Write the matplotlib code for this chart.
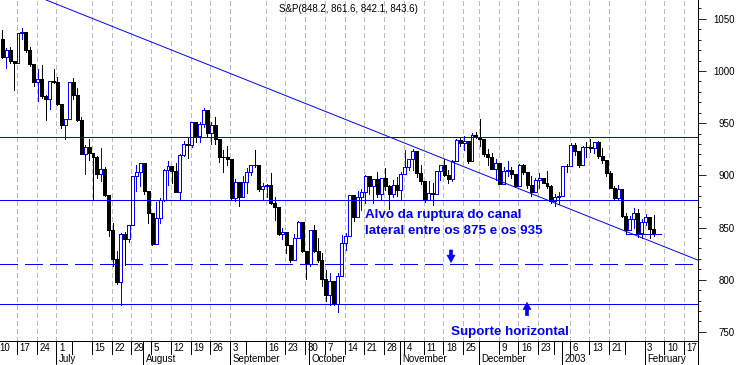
import numpy as np
import pandas as pd
import matplotlib
matplotlib.use("Agg")
import matplotlib.pyplot as plt
import matplotlib.transforms as mtransforms

# ---------------- data (S&P 500 daily, open = previous close) ----------------
holidays = ['2002-07-04', '2002-09-02', '2002-11-28', '2002-12-25', '2003-01-01', '2003-01-20']
first_open = 1030.74
closes = [
    # June 11 - 28
    1013.60, 1020.26, 1009.56, 1007.27, 1036.17, 1037.14, 1019.99, 1006.29, 989.14, 992.72,
    976.14, 973.53, 990.64, 989.82,
    # July
    968.65, 948.09, 953.99, 989.03, 976.98, 952.83, 920.47, 927.37, 921.39, 917.93,
    900.94, 906.04, 881.56, 847.75, 819.85, 797.70, 843.43, 838.68, 852.84, 898.96,
    902.78, 911.62,
    # August
    884.66, 864.24, 834.60, 859.57, 876.77, 905.46, 908.64, 903.80, 884.21, 919.62,
    930.25, 928.77, 950.70, 937.43, 949.36, 962.70, 940.86, 947.95, 934.82, 917.87,
    917.80, 916.07,
    # September
    878.02, 893.40, 879.15, 893.92, 902.96, 909.58, 909.45, 886.91, 889.81, 891.10,
    873.52, 869.46, 843.32, 845.39, 833.70, 819.29, 839.66, 854.95, 827.37, 815.28,
    # October
    847.91, 827.91, 818.95, 800.58, 785.28, 798.55, 776.76, 803.92, 835.32, 841.44,
    881.27, 860.02, 879.20, 884.39, 899.72, 890.16, 896.14, 882.50, 897.65, 890.23,
    882.15, 890.71, 885.76,
    # November
    900.96, 908.35, 915.39, 923.76, 902.65, 894.74, 876.19, 882.95, 882.53, 904.27,
    909.83, 900.36, 896.74, 914.15, 933.76, 930.55, 932.87, 913.31, 938.87, 936.31,
    # December
    934.53, 920.75, 917.58, 906.55, 912.23, 892.00, 904.45, 904.96, 901.58, 889.48,
    910.40, 902.99, 891.12, 884.25, 895.76, 897.38, 892.47, 889.66, 875.40, 879.39,
    879.82,
    # January 2003
    909.03, 908.59, 929.01, 922.93, 909.93, 927.57, 927.57, 926.26, 931.66, 918.22,
    914.60, 901.78, 887.62, 878.36, 887.34, 861.40, 847.48, 858.54, 864.36, 844.61,
    855.70,
    # February
    860.32, 848.20, 843.59,
]
highs = [
    1039.04, 1021.85, 1023.47, 1009.56, 1036.17, 1040.83, 1037.61, 1023.33, 1006.29, 1002.11,
    1005.88, 977.43, 990.67, 1001.79,
    994.46, 968.65, 954.30, 989.07, 993.56, 983.63, 956.34, 929.16, 934.96, 921.39,
    918.65, 926.52, 907.80, 881.56, 854.13, 827.69, 844.32, 845.66, 852.85, 898.96,
    909.81, 911.64,
    911.62, 884.74, 864.24, 874.44, 878.74, 905.84, 913.95, 908.64, 911.71, 920.21,
    933.29, 935.38, 951.17, 950.70, 951.03, 965.00, 962.70, 950.80, 955.82, 934.82,
    924.59, 928.15,
    916.07, 896.10, 893.40, 899.07, 907.34, 909.90, 924.02, 909.45, 892.75, 891.84,
    902.68, 878.80, 869.46, 849.32, 845.39, 833.70, 844.22, 856.60, 854.95, 827.37,
    847.93, 851.93, 840.02, 825.90, 808.86, 806.51, 798.55, 806.51, 843.27, 844.39,
    881.27, 881.27, 885.35, 886.68, 900.58, 899.72, 896.30, 902.94, 897.71, 907.44,
    890.64, 895.28, 898.51,
    903.42, 924.58, 915.83, 925.66, 923.76, 910.11, 894.74, 894.30, 892.51, 904.27,
    910.11, 915.59, 905.45, 915.01, 935.13, 937.15, 937.28, 932.87, 940.41, 941.82,
    954.28, 934.53, 925.25, 921.49, 915.48, 912.23, 908.37, 914.00, 908.37, 901.58,
    910.42, 911.22, 902.99, 899.19, 897.79, 902.42, 897.38, 903.89, 890.46, 882.10,
    884.30,
    909.03, 911.25, 931.05, 930.81, 922.93, 928.31, 932.37, 935.05, 931.66, 932.59,
    926.03, 914.60, 904.51, 889.74, 890.81, 887.34, 863.95, 860.76, 868.72, 867.68,
    858.42,
    862.85, 860.32, 861.63,
]
lows = [
    1012.94, 1002.58, 1008.12, 981.63, 1007.27, 1030.92, 1017.88, 1004.59, 985.65, 970.85,
    974.21, 952.92, 963.74, 988.31,
    967.43, 945.54, 934.87, 953.99, 972.91, 951.71, 920.29, 900.94, 915.03, 876.46,
    897.13, 895.03, 880.60, 842.07, 813.26, 796.13, 775.68, 813.66, 835.92, 852.84,
    884.70, 889.88,
    882.48, 853.95, 833.44, 834.60, 854.15, 875.17, 890.77, 892.38, 883.62, 876.20,
    918.17, 916.21, 927.21, 931.86, 931.62, 946.43, 937.17, 930.42, 930.36, 913.21,
    903.33, 910.17,
    877.51, 875.73, 870.50, 879.15, 882.92, 900.50, 908.47, 884.84, 877.05, 878.91,
    872.38, 857.39, 843.09, 839.09, 825.76, 817.38, 818.46, 839.66, 826.84, 800.20,
    812.82, 826.50, 817.25, 794.10, 779.50, 775.80, 775.80, 768.63, 803.92, 828.37,
    841.44, 856.28, 860.02, 866.58, 873.06, 882.19, 873.82, 879.00, 877.03, 886.15,
    867.91, 879.19, 879.75,
    877.71, 900.96, 904.91, 905.00, 898.68, 891.62, 874.63, 876.19, 872.05, 882.53,
    895.35, 899.48, 893.09, 894.93, 914.15, 928.50, 923.96, 912.10, 913.31, 935.58,
    927.72, 918.73, 909.51, 905.90, 895.96, 891.97, 892.00, 899.35, 897.00, 888.48,
    889.48, 901.74, 887.82, 880.32, 884.25, 887.43, 892.29, 887.48, 873.62, 870.23,
    872.29,
    879.82, 903.07, 908.59, 919.93, 908.32, 909.93, 917.68, 922.05, 921.72, 916.70,
    911.98, 899.02, 887.62, 877.64, 876.96, 859.71, 844.25, 847.48, 849.53, 840.67,
    840.34,
    852.59, 840.19, 842.11,
]
opens = [first_open] + closes[:-1]

title_text = "S&P(848.2, 861.6, 842.1, 843.6)"

# horizontal levels
channel_top = 936.5
channel_bottom = 876.3
target_level = 815.3
support_level = 777.0
short_support = 844.0
short_support_dates = ['2003-01-27', '2003-02-07']
trend_dates = ['2002-06-26', '2003-02-05']
trend_values = [1068.3, 835.7]

week_ticks = ['2002-06-10', '2002-06-17', '2002-06-24', '2002-07-01', '2002-07-08', '2002-07-15',
              '2002-07-22', '2002-07-29', '2002-08-05', '2002-08-12', '2002-08-19', '2002-08-26',
              '2002-09-03', '2002-09-09', '2002-09-16', '2002-09-23', '2002-09-30', '2002-10-07',
              '2002-10-14', '2002-10-21', '2002-10-28', '2002-11-04', '2002-11-11', '2002-11-18',
              '2002-11-25', '2002-12-02', '2002-12-09', '2002-12-16', '2002-12-23', '2002-12-30',
              '2003-01-06', '2003-01-13', '2003-01-21', '2003-01-27', '2003-02-03', '2003-02-10',
              '2003-02-17']
week_labels = ['10', '17', '24', '1', '', '15', '22', '29', '5', '12', '19', '26', '3', '',
               '16', '23', '30', '7', '14', '21', '28', '4', '11', '18', '25', '', '9', '16',
               '23', '', '6', '13', '21', '', '3', '10', '17']
grid_skip = ['2002-07-08', '2002-09-09', '2002-12-30', '2003-01-27']
month_starts = ['2002-07-01', '2002-08-01', '2002-09-03', '2002-10-01', '2002-11-01',
                '2002-12-02', '2003-01-02', '2003-02-03']
month_labels = ['July', 'August', 'September', 'October', 'November', 'December', '2003', 'February']

annot_line1 = "Alvo da ruptura do canal"
annot_line2 = "lateral entre os 875 e os 935"
annot_support = "Suporte horizontal"

# ---------------- calendar / positions ----------------
cal = pd.bdate_range('2002-06-10', '2003-02-21', freq='C', holidays=holidays)


def pos(d):
    return cal.get_loc(pd.Timestamp(d)) - 1


bar_dates = cal[(cal >= pd.Timestamp('2002-06-11')) & (cal <= pd.Timestamp('2003-02-05'))]
x = np.array([pos(d) for d in bar_dates], dtype=float)
o = np.array(opens)
c = np.array(closes)
h = np.array(highs)
l = np.array(lows)

BLUE = '#0000ff'
GRID = '#bdbdbd'
TICK_OFF = -0.25
THIN = 0.5
LINE = 0.72

W, H = 738, 365
fig = plt.figure(figsize=(W / 100, H / 100), dpi=100)
ax = fig.add_axes([0, 24 / H, 698 / W, 341 / H])
ax.set_xlim(-0.557, 176.25)
ax.set_ylim(741.2, 1068.1)

# vertical dashed grid
for d, lab in zip(week_ticks, week_labels):
    if d in grid_skip:
        continue
    ax.axvline(pos(d) + TICK_OFF, color=GRID, lw=THIN, ls=(0, (6, 5)), zorder=0,
               antialiased=False)

# candles
up = c > o
col = np.where(up, BLUE, 'black')
ax.vlines(x, l, h, colors=col, lw=THIN, zorder=2, antialiased=False)
bw = 0.75
ax.bar(x[up], (c - o)[up], bottom=o[up], width=bw, facecolor='white', edgecolor=BLUE,
       lw=THIN, zorder=3, antialiased=False)
ax.bar(x[~up], (o - c)[~up], bottom=c[~up], width=bw, facecolor='black', edgecolor='black',
       lw=THIN, zorder=3, antialiased=False)

# horizontal levels
for lev in (channel_top, channel_bottom, support_level):
    ax.axhline(lev, color=BLUE, lw=LINE, zorder=4, antialiased=False)
ax.axhline(target_level, color=BLUE, lw=LINE, dashes=(17, 7), zorder=4, antialiased=False)
ax.plot([pos(short_support_dates[0]), pos(short_support_dates[1])],
        [short_support, short_support], color=BLUE, lw=LINE, zorder=4, antialiased=False)
ax.axline((pos(trend_dates[0]), trend_values[0]), (pos(trend_dates[1]), trend_values[1]),
          color=BLUE, lw=0.7, zorder=4)

# annotations
afont = dict(family=['Liberation Sans', 'DejaVu Sans'], weight='bold', size=9.6,
             color=BLUE)
ax.text(365 / 698, 1 - 218 / 341, annot_line1, transform=ax.transAxes, ha='left',
        va='baseline', zorder=5, **afont)
ax.text(365 / 698, 1 - 234 / 341, annot_line2, transform=ax.transAxes, ha='left',
        va='baseline', zorder=5, **afont)
ax.text(451 / 698, 1 - 335 / 341, annot_support, transform=ax.transAxes, ha='left',
        va='baseline', zorder=5, **afont)

astyle = 'simple,head_length=0.55,head_width=0.6,tail_width=0.25'
ax.annotate('', xy=(451 / 698, target_level + 1), xycoords=('axes fraction', 'data'),
            xytext=(451 / 698, 828.5), textcoords=('axes fraction', 'data'),
            arrowprops=dict(arrowstyle=astyle, fc=BLUE, ec=BLUE, lw=0.3, shrinkA=0,
                            shrinkB=0, mutation_scale=10), zorder=5)
ax.annotate('', xy=(527 / 698, support_level + 1.5), xycoords=('axes fraction', 'data'),
            xytext=(527 / 698, 765.5), textcoords=('axes fraction', 'data'),
            arrowprops=dict(arrowstyle=astyle, fc=BLUE, ec=BLUE, lw=0.3, shrinkA=0,
                            shrinkB=0, mutation_scale=10), zorder=5)

ax.text(279 / 698, 1 - 12.5 / 341, title_text, transform=ax.transAxes, ha='left',
        va='baseline', fontsize=7, family=['Liberation Sans', 'DejaVu Sans'], color='black')

# right price axis
ax.yaxis.tick_right()
ax.set_yticks(np.arange(750, 1051, 50))
ax.set_yticks(np.arange(750, 1061, 10), minor=True)
ax.tick_params(axis='y', which='major', direction='out', length=5.8, width=0.6,
               pad=20.9, labelsize=7, colors='black')
ax.tick_params(axis='y', which='minor', direction='out', length=2.2, width=0.6)
for t in ax.get_yticklabels():
    t.set_horizontalalignment('right')
    t.set_family(['Liberation Sans', 'DejaVu Sans'])
ax.set_xticks([])
ax.spines['left'].set_visible(False)
ax.spines['top'].set_visible(False)
for s in ('right', 'bottom'):
    ax.spines[s].set_linewidth(0.72)
    ax.spines[s].set_color('black')

# date axis rows below the plot
trans = mtransforms.blended_transform_factory(ax.transData, ax.transAxes)
row1 = -13 / 341
row2 = -24 / 341
lab_font = dict(fontsize=7, family=['Liberation Sans', 'DejaVu Sans'], color='black')
for d, lab in zip(week_ticks, week_labels):
    xp = pos(d) + TICK_OFF
    ax.plot([xp, xp], [0, row1], transform=trans, color='black', lw=THIN, clip_on=False,
            antialiased=False)
    if lab:
        ax.text(xp + 0.62, -7 / 341, lab, transform=trans, ha='left', va='center',
                clip_on=False, **lab_font)
for d, lab in zip(month_starts, month_labels):
    xp = pos(d) + TICK_OFF
    ax.plot([xp, xp], [0, row2], transform=trans, color='black', lw=THIN, clip_on=False,
            antialiased=False)
    ax.text(xp + 0.62, -18.5 / 341, lab, transform=trans, ha='left', va='center',
            clip_on=False, **lab_font)
ax.plot([1, 1], [0, row2], transform=ax.transAxes, color='black', lw=THIN, clip_on=False,
        antialiased=False)

fig.savefig('out.png', dpi=100, facecolor='white')
